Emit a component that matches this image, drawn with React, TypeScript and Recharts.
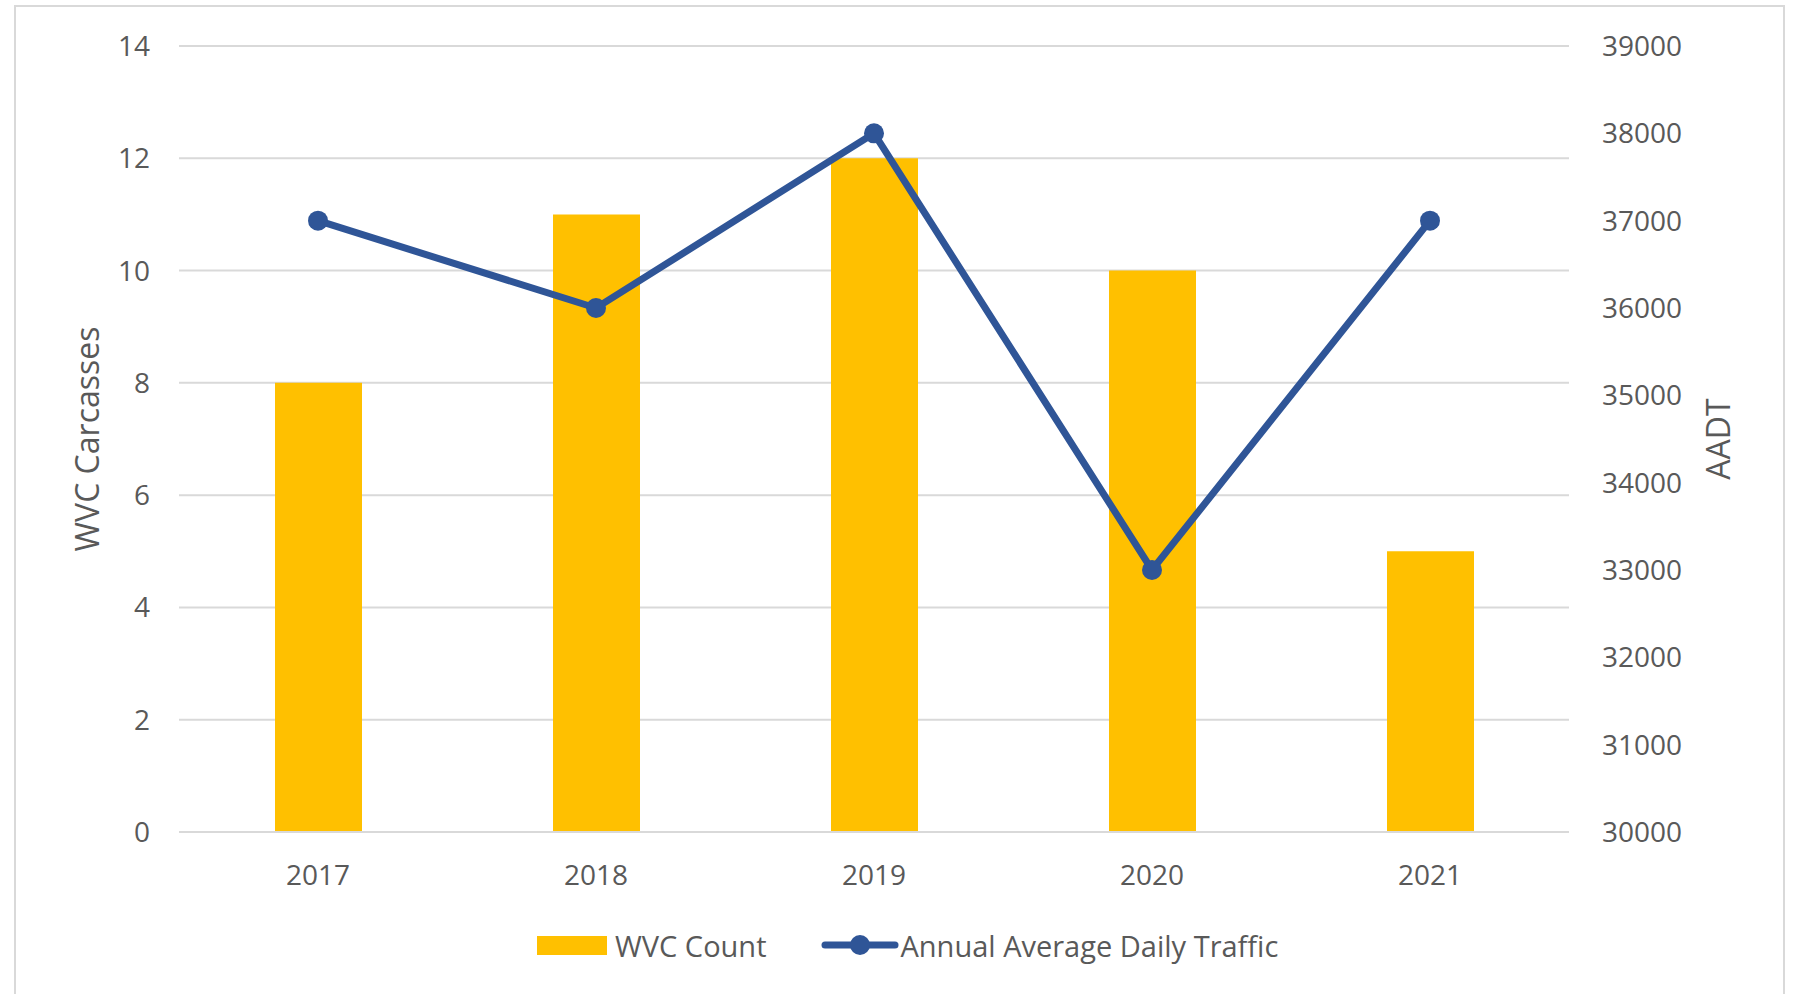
import { ComposedChart, Bar, Line, XAxis, YAxis, CartesianGrid } from "recharts";

const years = ["2017", "2018", "2019", "2020", "2021"];
const wvcCount = [8, 11, 12, 10, 5];
const aadt = [37000, 36000, 38000, 33000, 37000];
const leftTicks = [0, 2, 4, 6, 8, 10, 12, 14];
const rightTicks = [30000, 31000, 32000, 33000, 34000, 35000, 36000, 37000, 38000, 39000];

const BAR_COLOR = "#FFC000";
const LINE_COLOR = "#2F5597";
const TEXT_COLOR = "#595959";
const GRID_COLOR = "#D9D9D9";
const FONT = "'Open Sans', sans-serif";

const data = years.map((year, i) => ({ year, wvc: wvcCount[i], aadt: aadt[i] }));

const tickStyle = { fill: TEXT_COLOR, fontSize: 28, fontFamily: FONT };

const App = () => {
  return (
    <div style={{ position: "absolute", left: 0, top: 0, width: 1793, height: 994, background: "#fff", overflow: "hidden", fontFamily: FONT }}>
      <div
        style={{
          position: "absolute",
          left: 14,
          top: 5,
          width: 1771,
          height: 1010,
          border: `2px solid ${GRID_COLOR}`,
          boxSizing: "border-box",
        }}
      />
      <div style={{ position: "absolute", left: 0, top: 0 }}>
        <ComposedChart width={1793} height={994} data={data} margin={{ top: 46, right: 0, bottom: 132, left: 0 }}>
          <CartesianGrid vertical={false} stroke={GRID_COLOR} strokeWidth={2} yAxisId="left" />
          <XAxis
            dataKey="year"
            height={30}
            tick={tickStyle}
            tickLine={false}
            axisLine={{ stroke: GRID_COLOR, strokeWidth: 2 }}
            tickSize={0}
            tickMargin={33}
          />
          <YAxis
            yAxisId="left"
            orientation="left"
            width={179}
            domain={[0, 14]}
            ticks={leftTicks}
            interval={0}
            tick={tickStyle}
            tickLine={false}
            axisLine={false}
            tickSize={0}
            tickMargin={29}
            label={{ value: "WVC Carcasses", angle: -90, position: "center", dx: -2, fill: TEXT_COLOR, fontSize: 32, fontFamily: FONT }}
          />
          <YAxis
            yAxisId="right"
            orientation="right"
            width={224}
            domain={[30000, 39000]}
            ticks={rightTicks}
            interval={0}
            tick={tickStyle}
            tickLine={false}
            axisLine={false}
            tickSize={0}
            tickMargin={33}
            label={{ value: "AADT", angle: -90, position: "center", dx: 38, fill: TEXT_COLOR, fontSize: 32, fontFamily: FONT }}
          />
          <Bar yAxisId="left" dataKey="wvc" fill={BAR_COLOR} barSize={87} isAnimationActive={false} />
          <Line
            yAxisId="right"
            dataKey="aadt"
            stroke={LINE_COLOR}
            strokeWidth={7}
            dot={{ r: 10, fill: LINE_COLOR, stroke: LINE_COLOR, strokeWidth: 0 }}
            activeDot={false}
            isAnimationActive={false}
          />
        </ComposedChart>
      </div>
      <div style={{ position: "absolute", left: 537, top: 927, height: 36, display: "flex", alignItems: "center", color: TEXT_COLOR, fontSize: 29 }}>
        <div style={{ width: 70, height: 19, background: BAR_COLOR, marginRight: 8 }} />
        <span>WVC Count</span>
        <svg width={78} height={24} style={{ marginLeft: 54, marginRight: 2 }}>
          <line x1={4} y1={12} x2={74} y2={12} stroke={LINE_COLOR} strokeWidth={7} strokeLinecap="round" />
          <circle cx={39} cy={12} r={10} fill={LINE_COLOR} />
        </svg>
        <span>Annual Average Daily Traffic</span>
      </div>
    </div>
  );
};

export default App;
